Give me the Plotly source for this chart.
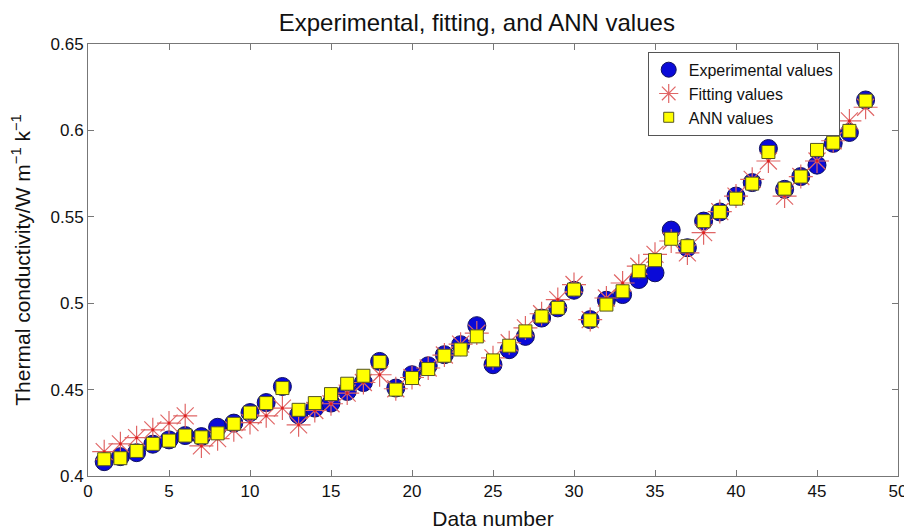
import plotly.graph_objects as go

data_number = list(range(1, 49))

experimental = [0.4083, 0.4112, 0.4135, 0.4184, 0.4209, 0.4234, 0.4228, 0.4282, 0.4306, 0.4367,
                0.4425, 0.4518, 0.4354, 0.4393, 0.4422, 0.4489, 0.4541, 0.4663, 0.4509, 0.4586,
                0.4638, 0.4702, 0.4760, 0.4870, 0.4644, 0.4731, 0.4808, 0.4914, 0.4973, 0.5075,
                0.4905, 0.5017, 0.5050, 0.5137, 0.5176, 0.5423, 0.5321, 0.5475, 0.5528, 0.5620,
                0.5698, 0.5895, 0.5659, 0.5733, 0.5799, 0.5925, 0.5988, 0.6176]

fitting = [0.4141, 0.4186, 0.4222, 0.4267, 0.4306, 0.4348, 0.4174, 0.4216, 0.4267, 0.4309,
           0.4348, 0.4393, 0.4296, 0.4379, 0.4418, 0.4480, 0.4541, 0.4586, 0.4505, 0.4570,
           0.4625, 0.4700, 0.4763, 0.4827, 0.4684, 0.4771, 0.4857, 0.4939, 0.5021, 0.5108,
           0.4905, 0.5030, 0.5117, 0.5214, 0.5283, 0.5360, 0.5291, 0.5408, 0.5530, 0.5620,
           0.5717, 0.5823, 0.5620, 0.5733, 0.5823, 0.5940, 0.6055, 0.6134]

ann = [0.4097, 0.4103, 0.4145, 0.4186, 0.4205, 0.4234, 0.4224, 0.4247, 0.4302, 0.4367,
       0.4422, 0.4509, 0.4383, 0.4422, 0.4474, 0.4534, 0.4580, 0.4660, 0.4500, 0.4567,
       0.4619, 0.4696, 0.4732, 0.4808, 0.4669, 0.4754, 0.4837, 0.4923, 0.4973, 0.5079,
       0.4901, 0.4992, 0.5069, 0.5185, 0.5249, 0.5373, 0.5330, 0.5475, 0.5528, 0.5605,
       0.5692, 0.5875, 0.5663, 0.5733, 0.5887, 0.5929, 0.5997, 0.6172]

series_names = ["Experimental values", "Fitting values", "ANN values"]

x_ticks = [0, 5, 10, 15, 20, 25, 30, 35, 40, 45, 50]
y_ticks = [0.4, 0.45, 0.5, 0.55, 0.6, 0.65]
y_tick_labels = ["0.4", "0.45", "0.5", "0.55", "0.6", "0.65"]

FONT = "Liberation Sans, Arial, Helvetica, sans-serif"

circle_style = dict(symbol="circle", color="#0a0ad8", line=dict(color="#101060", width=1))
star_style = dict(symbol="asterisk-open", color="#e06666", line=dict(color="#e06666", width=1.2))
square_style = dict(symbol="square", color="#ffff00", line=dict(color="#555522", width=1))

fig = go.Figure()
fig.add_trace(go.Scatter(
    x=data_number, y=experimental, mode="markers", name=series_names[0], showlegend=False,
    marker=dict(size=18, **circle_style)))
fig.add_trace(go.Scatter(
    x=data_number, y=fitting, mode="markers", name=series_names[1], showlegend=False,
    marker=dict(size=20, **star_style)))
fig.add_trace(go.Scatter(
    x=data_number, y=fitting, mode="markers", showlegend=False, hoverinfo="skip",
    marker=dict(symbol="circle", size=3, color="#e02020")))
fig.add_trace(go.Scatter(
    x=data_number, y=ann, mode="markers", name=series_names[2], showlegend=False,
    marker=dict(size=13, **square_style)))

# legend entries (sized like the reference legend symbols)
fig.add_trace(go.Scatter(x=[None], y=[None], mode="markers", name=series_names[0],
                         marker=dict(size=15, **circle_style)))
fig.add_trace(go.Scatter(x=[None], y=[None], mode="markers", name=series_names[1],
                         marker=dict(size=16, **star_style)))
fig.add_trace(go.Scatter(x=[None], y=[None], mode="markers", name=series_names[2],
                         marker=dict(size=10, **square_style)))

axis_common = dict(
    showline=True, linecolor="#777777", linewidth=1, mirror="ticks",
    ticks="inside", ticklen=6, tickcolor="#777777", showgrid=False, zeroline=False,
    automargin=False,
    tickfont=dict(family=FONT, size=17, color="#111111"),
)

# the page body adds an 8px offset, so the figure is drawn 8px smaller
fig.update_layout(
    width=904, height=522,
    margin=dict(l=80, r=14, t=36, b=54),
    paper_bgcolor="white", plot_bgcolor="white",
    title=dict(text="Experimental, fitting, and ANN values", x=0.48, xref="paper",
               y=0.972, yref="container", xanchor="center", yanchor="middle",
               font=dict(family=FONT, size=24, color="#111111")),
    xaxis=dict(range=[0, 50], tickvals=x_ticks,
               title=dict(text="Data number",
                          font=dict(family=FONT, size=21, color="#111111")),
               **axis_common),
    yaxis=dict(range=[0.4, 0.65], tickvals=y_ticks, ticktext=y_tick_labels,
               title=dict(text="Thermal conductivity/W m<sup>−1</sup> k<sup>−1</sup>",
                          font=dict(family=FONT, size=21, color="#111111")),
               **axis_common),
    legend=dict(x=0.691, y=0.982, xanchor="left", yanchor="top",
                bgcolor="white", bordercolor="#555555", borderwidth=1,
                font=dict(family=FONT, size=16, color="#111111"),
                tracegroupgap=0, itemsizing="trace"),
    showlegend=True,
)

fig.write_html("out.html")
